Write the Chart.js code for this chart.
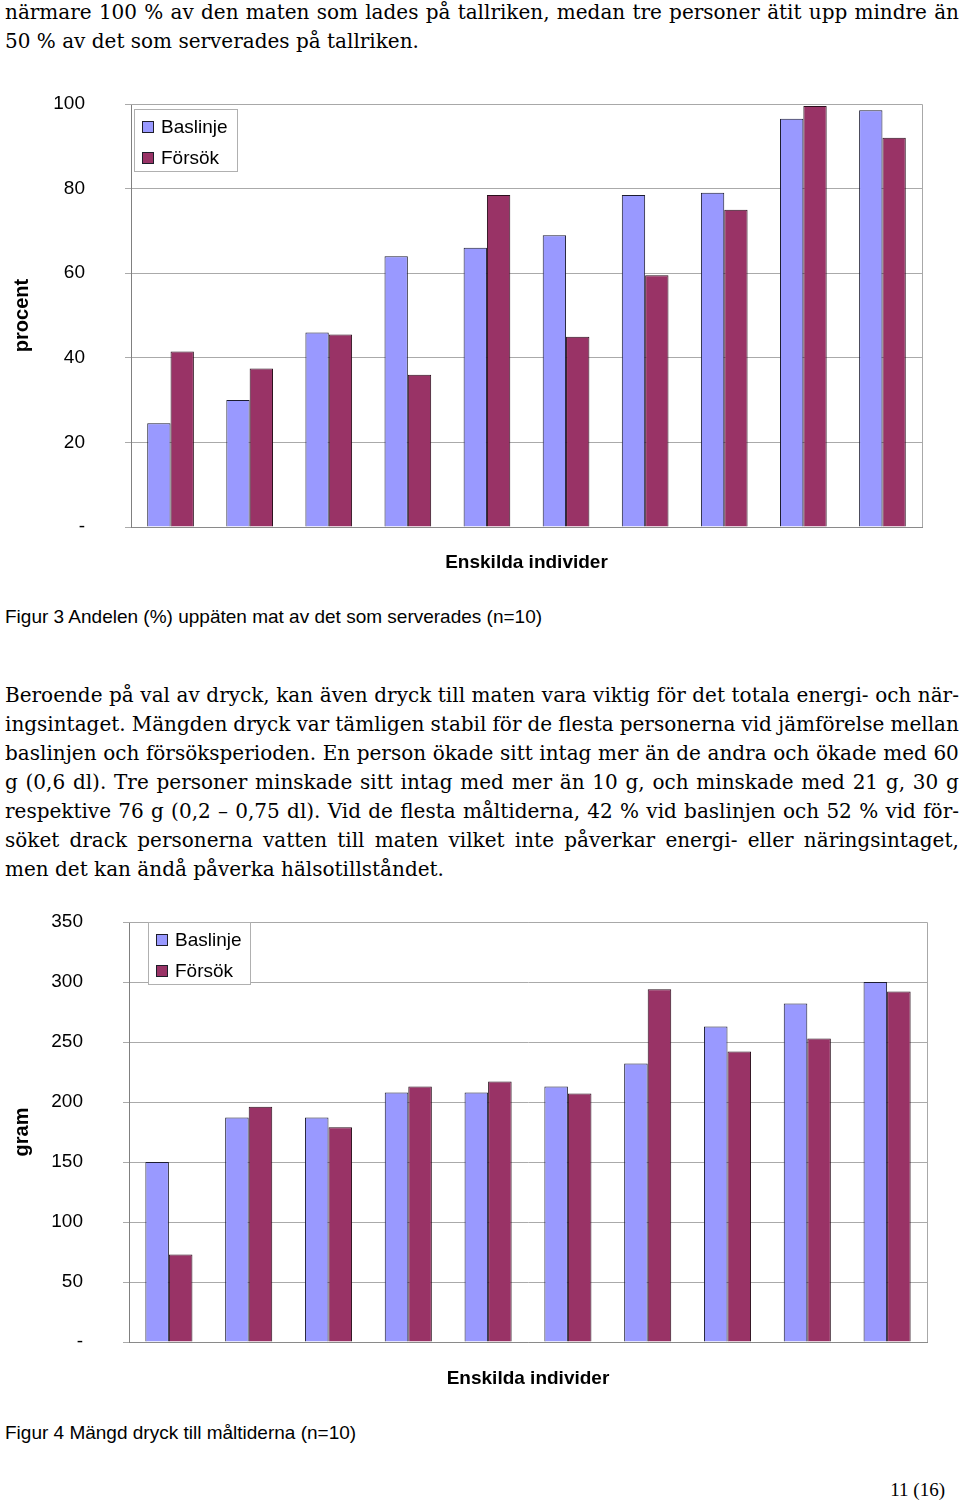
<!DOCTYPE html>
<html lang="sv">
<head>
<meta charset="utf-8">
<script src="https://cdn.jsdelivr.net/npm/chart.js@4.4.1/dist/chart.umd.min.js"></script>
<style>
  html, body { margin: 0; padding: 0; background: #fff; }
  body { position: relative; width: 960px; height: 1503px; overflow: hidden; color: #000; }
  .serif { font-family: "DejaVu Serif", "Liberation Serif", serif; font-size: 20px; line-height: 29px; }
  .block { position: absolute; left: 5px; width: 954px; }
  .just { display: flex; justify-content: space-between; white-space: nowrap; }
  .line { white-space: nowrap; }
  .caption { position: absolute; left: 5px; font-family: "Liberation Sans", Arial, sans-serif; font-size: 19px; line-height: 22px; }
  .pagenr { position: absolute; right: 15px; top: 1478px; font-family: "Liberation Serif", serif; font-size: 19px; line-height: 24px; }
  canvas { position: absolute; left: 0; }
</style>
</head>
<body>

<div class="block serif" style="top:-2px">
  <div class="just">närmare 100 % av den maten som lades på tallriken, medan tre personer ätit upp mindre än</div>
  <div class="line">50 % av det som serverades på tallriken.</div>
</div>

<canvas id="andelChart" width="960" height="500" style="top:90px"></canvas>
<div class="caption" style="top:606px">Figur 3 Andelen (%) uppäten mat av det som serverades (n=10)</div>

<div class="block serif" style="top:681px">
  <div class="just">Beroende på val av dryck, kan även dryck till maten vara viktig för det totala energi- och när-</div>
  <div class="just">ingsintaget. Mängden dryck var tämligen stabil för de flesta personerna vid jämförelse mellan</div>
  <div class="just">baslinjen och försöksperioden. En person ökade sitt intag mer än de andra och ökade med 60</div>
  <div class="just">g (0,6 dl). Tre personer minskade sitt intag med mer än 10 g, och minskade med 21 g, 30 g</div>
  <div class="just">respektive 76 g (0,2 – 0,75 dl). Vid de flesta måltiderna, 42 % vid baslinjen och 52 % vid för-</div>
  <div class="just">söket drack personerna vatten till maten vilket inte påverkar energi- eller näringsintaget,</div>
  <div class="line">men det kan ändå påverka hälsotillståndet.</div>
</div>

<canvas id="dryckChart" width="960" height="500" style="top:900px"></canvas>
<div class="caption" style="top:1422px">Figur 4 Mängd dryck till måltiderna (n=10)</div>

<div class="pagenr">11 (16)</div>

<script>
// justified lines: one span per word, spread over the full width
document.querySelectorAll('.just').forEach(line => {
  const words = line.textContent.trim().split(/\s+/);
  line.textContent = '';
  words.forEach(w => {
    const span = document.createElement('span');
    span.textContent = w;
    line.appendChild(span);
  });
});

// individer 1-10, no visible x labels
const individer = ['1', '2', '3', '4', '5', '6', '7', '8', '9', '10'];

// Figur 3: andel uppäten mat (%)
const andelBaslinje = [24.5, 30, 46, 64, 66, 69, 78.5, 79, 96.5, 98.5];
const andelForsok = [41.5, 37.5, 45.5, 36, 78.5, 45, 59.5, 75, 99.5, 92];
const procentTicks = [0, 20, 40, 60, 80, 100];

// Figur 4: mängd dryck (gram)
const dryckBaslinje = [150, 187, 187, 208, 208, 213, 232, 263, 282, 300];
const dryckForsok = [73, 196, 179, 213, 217, 207, 294, 242, 253, 292];
const gramTicks = [0, 50, 100, 150, 200, 250, 300, 350];

const sans = '"Liberation Sans", Arial, sans-serif';

// legend box inside the plot + grey frame round the plot area
const boxLegend = {
  id: 'boxLegend',
  beforeDatasetsDraw(chart) {
    const { ctx, chartArea: a } = chart;
    ctx.save();
    ctx.strokeStyle = '#a8a8a8';
    ctx.lineWidth = 1;
    ctx.beginPath();
    ctx.moveTo(a.left, a.top + 0.5);
    ctx.lineTo(a.right + 0.5, a.top + 0.5);
    ctx.lineTo(a.right + 0.5, a.bottom);
    ctx.stroke();
    ctx.restore();
  },
  afterDatasetsDraw(chart, args, opts) {
    const { ctx, chartArea } = chart;
    const x = Math.round(chartArea.left + opts.dx);
    const y = Math.round(chartArea.top + opts.dy);
    ctx.save();
    ctx.fillStyle = '#fff';
    ctx.fillRect(x, y, opts.w, opts.h);
    ctx.strokeStyle = '#b0b0b0';
    ctx.lineWidth = 1;
    ctx.strokeRect(x + 0.5, y + 0.5, opts.w, opts.h);
    ctx.font = '19px ' + sans;
    ctx.textBaseline = 'middle';
    chart.data.datasets.forEach((ds, i) => {
      const cy = Math.round(y + 17.5 + i * 31);
      ctx.fillStyle = ds.backgroundColor;
      ctx.fillRect(x + 8, cy - 6, 12, 12);
      ctx.strokeStyle = '#1e1e2a';
      ctx.strokeRect(x + 8.5, cy - 5.5, 11, 11);
      ctx.fillStyle = '#000';
      ctx.fillText(ds.label, x + 27, cy + 1);
    });
    ctx.restore();
  }
};

function makeChart(id, base, trial, ticks, yTitle, g) {
  return new Chart(document.getElementById(id), {
    type: 'bar',
    data: {
      labels: individer,
      datasets: [
        { label: 'Baslinje', data: base, backgroundColor: '#9999ff', borderColor: '#1c1c30', borderWidth: 1 },
        { label: 'Försök', data: trial, backgroundColor: '#993366', borderColor: '#2a0f1c', borderWidth: 1 }
      ]
    },
    options: {
      responsive: false,
      animation: false,
      devicePixelRatio: 1,
      layout: { padding: { top: g.top, right: g.right, left: 0, bottom: 0 } },
      datasets: { bar: { categoryPercentage: 0.59, barPercentage: 1 } },
      plugins: {
        legend: { display: false },
        tooltip: { enabled: false },
        boxLegend: { dx: g.lx, dy: g.ly, w: g.lw, h: 62 }
      },
      scales: {
        x: {
          ticks: { display: false },
          grid: { display: false },
          border: { color: '#8a8a8a' },
          title: {
            display: true,
            text: 'Enskilda individer',
            color: '#000',
            font: { family: sans, size: 19, weight: 'bold' },
            padding: { top: 0, bottom: g.xpb }
          },
          afterFit(scale) { scale.height = g.xh; }
        },
        y: {
          min: 0,
          max: ticks[ticks.length - 1],
          afterBuildTicks(scale) { scale.ticks = ticks.map(v => ({ value: v })); },
          ticks: {
            color: '#000',
            font: { family: sans, size: 19 },
            padding: 40,
            callback: v => (v === 0 ? '-' : v)
          },
          grid: { color: '#aaaaaa', tickLength: 6 },
          border: { color: '#808080' },
          title: {
            display: true,
            text: yTitle,
            color: '#000',
            font: { family: sans, size: 20, weight: 'bold' },
            padding: { top: 10, bottom: 0 }
          },
          afterFit(scale) {
            scale.width = g.yw;
            // the big tick padding should not push the plot area down
            scale.paddingTop = 0;
            scale.paddingBottom = 0;
          }
        }
      }
    },
    plugins: [boxLegend]
  });
}

makeChart('andelChart', andelBaslinje, andelForsok, procentTicks, 'procent',
  { top: 14, right: 38, yw: 131, xh: 63, xpb: 15.6, lx: 3, ly: 5, lw: 103 });

makeChart('dryckChart', dryckBaslinje, dryckForsok, gramTicks, 'gram',
  { top: 22, right: 33, yw: 129, xh: 58, xpb: 9.6, lx: 19, ly: 0, lw: 102 });
</script>
</body>
</html>
